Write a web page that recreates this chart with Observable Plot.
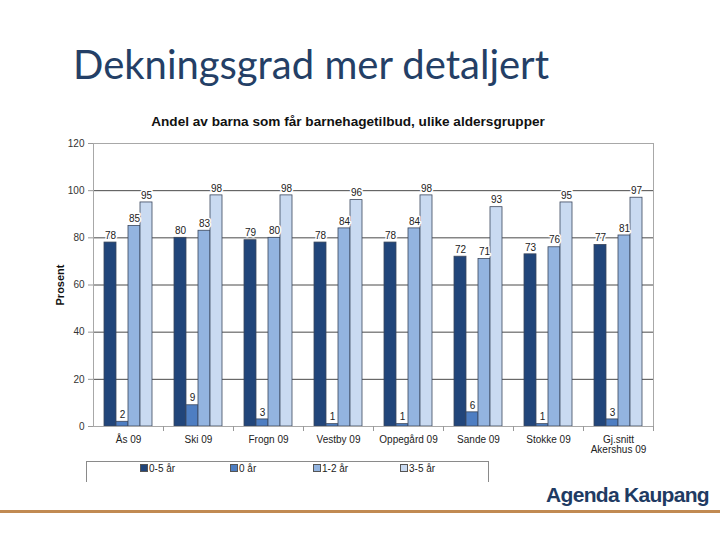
<!DOCTYPE html>
<html>
<head>
<meta charset="utf-8">
<script src="https://cdn.jsdelivr.net/npm/d3@7"></script>
<script src="https://cdn.jsdelivr.net/npm/@observablehq/plot@0.6"></script>
<style>
  html, body { margin: 0; padding: 0; background: #fff; }
  #page { position: relative; width: 720px; height: 540px; overflow: hidden; background: #fff; }
  #title { position: absolute; left: 73px; top: 44px; font-family: Lato, "Open Sans", sans-serif; font-size: 40px; line-height: 1; color: #243F66; white-space: nowrap; }
  #ctitle { position: absolute; left: 0; width: 696px; top: 115px; text-align: center; font-family: "Liberation Sans", Arial, sans-serif; font-weight: bold; font-size: 13.6px; line-height: 1; color: #111; white-space: nowrap; }
  #chart { position: absolute; left: 0; top: 110px; }
  #legend { position: absolute; left: 86px; top: 461px; width: 401px; height: 20px; border: 1px solid #8a8a8a; border-bottom: none; background: #fff; font-family: "Liberation Sans", Arial, sans-serif; font-size: 10px; color: #222; }
  .item { position: absolute; top: 2px; white-space: nowrap; line-height: 10px; }
  .sw { display: inline-block; width: 6px; height: 6px; border: 1px solid #555; margin-right: 1px; vertical-align: 0px; }
  #rule { position: absolute; left: 0; width: 720px; top: 510px; height: 3px; background: #C18A52; }
  #brand { position: absolute; right: 11px; top: 484px; font-family: "Liberation Sans", Arial, sans-serif; font-weight: bold; font-size: 21px; letter-spacing: -0.7px; line-height: 1; color: #1F3B63; white-space: nowrap; }
</style>
</head>
<body>
<div id="page">
  <div id="title">Dekningsgrad mer detaljert</div>
  <div id="chart"></div>
  <div id="ctitle">Andel av barna som får barnehagetilbud, ulike aldersgrupper</div>
  <div id="legend"></div>
  <div id="brand">Agenda Kaupang</div>
  <div id="rule"></div>
</div>
<script>
const categories = ["Ås 09", "Ski 09", "Frogn 09", "Vestby 09", "Oppegård 09", "Sande 09", "Stokke 09", "Gj.snitt\nAkershus 09"];
const series = ["0-5 år", "0 år", "1-2 år", "3-5 år"];
const values0to5 = [78, 80, 79, 78, 78, 72, 73, 77];
const values0 = [2, 9, 3, 1, 1, 6, 1, 3];
const values1to2 = [85, 83, 80, 84, 84, 71, 76, 81];
const values3to5 = [95, 98, 98, 96, 98, 93, 95, 97];
const yTicks = [0, 20, 40, 60, 80, 100, 120];
const gridTicks = [20, 40, 60, 80, 100];
const colors = ["#21457A", "#4E7EC2", "#93B4E0", "#C9DAF1"];
const legendX = [53, 143, 226, 313];

const seriesValues = [values0to5, values0, values1to2, values3to5];
const data = categories.flatMap((c, i) => series.map((s, k) => ({cat: c, series: s, value: seriesValues[k][i]})));

const chart = Plot.plot({
  width: 720,
  height: 350,
  marginLeft: 93,
  marginRight: 67,
  marginTop: 33,
  marginBottom: 34,
  style: {fontFamily: "'Liberation Sans', Arial, sans-serif", fontSize: "10px", color: "#222", background: "transparent"},
  fx: {domain: categories, padding: 0, label: null, axis: null},
  x: {domain: series, paddingInner: 0, paddingOuter: 0.745, axis: null},
  y: {domain: [0, 120], axis: null},
  color: {domain: series, range: colors},
  marks: [
    Plot.ruleY(gridTicks, {stroke: "#4a4a4a", strokeWidth: 1}),
    Plot.barY(data, {fx: "cat", x: "series", y: "value", fill: "series", stroke: "#3b475c", strokeWidth: 0.8}),
    Plot.text(data, {fx: "cat", x: "series", y: "value", text: "value", dy: -7, fill: "#222", stroke: "white", strokeWidth: 3, fontSize: 10}),
    Plot.frame({stroke: "#a8a8a8", facet: "super"}),
    Plot.axisY({ticks: yTicks, tickSize: 5, anchor: "left", label: null, stroke: "#999", fill: "#333", fontSize: 10}),
    Plot.axisFx({anchor: "bottom", tickSize: 0, tickPadding: 9, label: null, fontSize: 10, fill: "#222"}),
    Plot.axisFx({anchor: "bottom", tickSize: 5, tickFormat: () => "", dx: 35, label: null, stroke: "#999"}),
    Plot.text(["Prosent"], {frameAnchor: "left", textAnchor: "middle", rotate: -90, dx: -33, fontWeight: "bold", fontSize: 11, fill: "#111", facet: "super"})
  ]
});
document.getElementById("chart").appendChild(chart);

const legend = document.getElementById("legend");
series.forEach((s, k) => {
  const d = document.createElement("div");
  d.className = "item";
  d.style.left = legendX[k] + "px";
  const sw = document.createElement("span");
  sw.className = "sw";
  sw.style.background = colors[k];
  d.appendChild(sw);
  d.appendChild(document.createTextNode(s));
  legend.appendChild(d);
});
</script>
</body>
</html>
